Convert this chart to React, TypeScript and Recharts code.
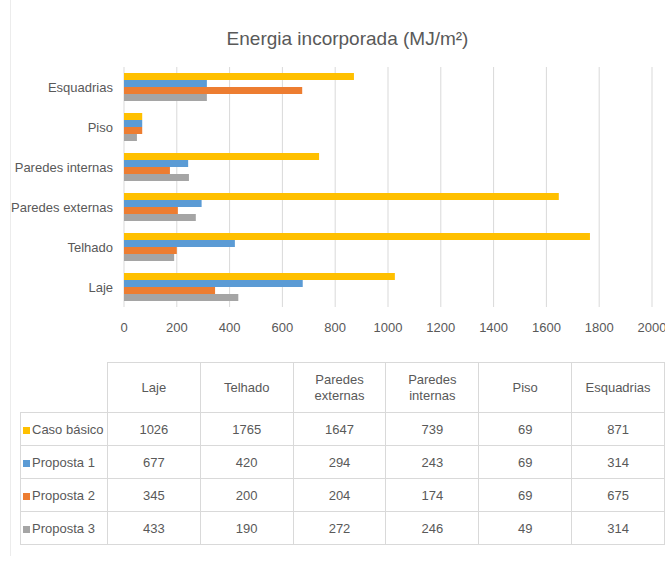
import { BarChart, Bar, XAxis, YAxis, CartesianGrid } from "recharts";

const categories = ["Laje", "Telhado", "Paredes externas", "Paredes internas", "Piso", "Esquadrias"];
const headerLabels = ["Laje", "Telhado", "Paredes\nexternas", "Paredes\ninternas", "Piso", "Esquadrias"];
const casoBasico = [1026, 1765, 1647, 739, 69, 871];
const proposta1 = [677, 420, 294, 243, 69, 314];
const proposta2 = [345, 200, 204, 174, 69, 675];
const proposta3 = [433, 190, 272, 246, 49, 314];
const xTicks = [0, 200, 400, 600, 800, 1000, 1200, 1400, 1600, 1800, 2000];

const SERIES = [
  { key: "caso", name: "Caso básico", color: "#FFC000", values: casoBasico },
  { key: "p1", name: "Proposta 1", color: "#5B9BD5", values: proposta1 },
  { key: "p2", name: "Proposta 2", color: "#ED7D31", values: proposta2 },
  { key: "p3", name: "Proposta 3", color: "#A5A5A5", values: proposta3 },
];

const FONT = '"Liberation Sans", Arial, sans-serif';
const TEXT = "#595959";
const BORDER = "1px solid #d9d9d9";

const data = categories.map((c, i) => {
  const row: Record<string, string | number> = { name: c };
  SERIES.forEach((s) => {
    row[s.key] = s.values[i];
  });
  return row;
});

export default function App() {
  return (
    <div
      style={{
        position: "absolute",
        left: 0,
        top: 0,
        width: 665,
        height: 564,
        background: "#fff",
        fontFamily: FONT,
        color: TEXT,
      }}
    >
      <div style={{ position: "absolute", left: 10, top: 0, width: 1, height: 556, background: "#ececec" }} />
      <div
        style={{
          position: "absolute",
          left: 0,
          top: 28,
          width: 695,
          textAlign: "center",
          fontSize: 19,
        }}
      >
        Energia incorporada (MJ/m²)
      </div>

      <div style={{ position: "absolute", left: 0, top: 0 }}>
        <BarChart
          width={665}
          height={345}
          data={data}
          layout="vertical"
          margin={{ top: 67, right: 13, left: 8, bottom: 0 }}
          barSize={7}
          barGap={0}
        >
          <CartesianGrid horizontal={false} stroke="#d9d9d9" />
          <XAxis
            type="number"
            domain={[0, 2000]}
            ticks={xTicks}
            axisLine={false}
            tickLine={false}
            tickSize={0}
            tickMargin={16}
            height={38}
            interval={0}
            tick={{ fontSize: 13, fill: TEXT, fontFamily: FONT }}
          />
          <YAxis
            type="category"
            dataKey="name"
            reversed
            width={116}
            axisLine={false}
            tickLine={false}
            tickSize={0}
            tickMargin={11}
            interval={0}
            tick={{ fontSize: 13, fill: TEXT, fontFamily: FONT }}
          />
          {SERIES.map((s) => (
            <Bar key={s.key} dataKey={s.key} name={s.name} fill={s.color} isAnimationActive={false} />
          ))}
        </BarChart>
      </div>

      {/* Data table */}
      <table
        style={{
          position: "absolute",
          left: 20,
          top: 362,
          borderCollapse: "collapse",
          fontSize: 13,
          fontFamily: FONT,
          color: TEXT,
          tableLayout: "fixed",
        }}
      >
        <colgroup>
          <col style={{ width: 87 }} />
          {categories.map((c) => (
            <col key={c} style={{ width: 93 }} />
          ))}
        </colgroup>
        <tbody>
          <tr style={{ height: 50 }}>
            <td style={{ padding: 0 }} />
            {headerLabels.map((h) => (
              <td
                key={h}
                style={{ border: BORDER, textAlign: "center", padding: 0, whiteSpace: "pre-line", lineHeight: "16px" }}
              >
                {h}
              </td>
            ))}
          </tr>
          {SERIES.map((s) => (
            <tr key={s.key} style={{ height: 33 }}>
              <td style={{ border: BORDER, padding: "0 0 0 2px", whiteSpace: "nowrap" }}>
                <span
                  style={{
                    display: "inline-block",
                    width: 7,
                    height: 7,
                    background: s.color,
                    marginRight: 2,
                  }}
                />
                {s.name}
              </td>
              {s.values.map((v, i) => (
                <td key={i} style={{ border: BORDER, textAlign: "center", padding: 0 }}>
                  {v}
                </td>
              ))}
            </tr>
          ))}
        </tbody>
      </table>
    </div>
  );
}
